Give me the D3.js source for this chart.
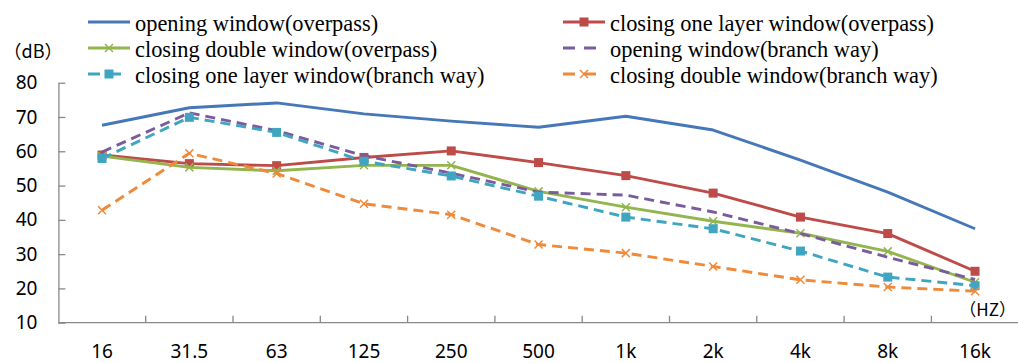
<!DOCTYPE html>
<html>
<head>
<meta charset="utf-8">
<script src="https://cdn.jsdelivr.net/npm/d3@7"></script>
<style>
  body { margin: 0; background: #fff; }
  svg { display: block; }
</style>
</head>
<body>
<div id="chart"></div>
<script>
// frequency bands (HZ) and y ticks (dB)
const categories = ["16", "31.5", "63", "125", "250", "500", "1k", "2k", "4k", "8k", "16k"];
const yTicks = [10, 20, 30, 40, 50, 60, 70, 80];

// values, dB
const openOverpass    = [67.6, 72.7, 74.1, 70.9, 68.8, 67.0, 70.2, 66.2, 57.4, 48.1, 37.4];
const oneLayerOverpass = [58.9, 56.4, 55.8, 58.2, 60.1, 56.7, 52.9, 47.8, 40.8, 36.0, 25.0];
const doubleOverpass  = [58.6, 55.3, 54.3, 55.9, 55.9, 48.3, 43.7, 39.6, 36.1, 30.8, 21.8];
const openBranch      = [59.8, 71.2, 66.0, 58.7, 53.6, 48.1, 47.2, 42.3, 36.0, 29.1, 22.6];
const oneLayerBranch  = [57.9, 69.9, 65.5, 57.1, 52.8, 46.9, 40.8, 37.4, 30.9, 23.3, 20.8];
const doubleBranch    = [42.8, 59.4, 53.5, 44.7, 41.5, 32.8, 30.3, 26.4, 22.5, 20.4, 19.2];

const series = [
    { name: "opening window(overpass)", values: openOverpass, color: "#4677b8", dash: null, marker: null },
    { name: "closing one layer window(overpass)", values: oneLayerOverpass, color: "#be4b48", dash: null, marker: "square" },
    { name: "closing double window(overpass)", values: doubleOverpass, color: "#92b54e", dash: null, marker: "cross" },
    { name: "opening window(branch way)", values: openBranch, color: "#7a5c9e", dash: "10,6", marker: null },
    { name: "closing one layer window(branch way)", values: oneLayerBranch, color: "#40a5c0", dash: "10,6", marker: "square" },
    { name: "closing double window(branch way)", values: doubleBranch, color: "#ee8a3a", dash: "10,6", marker: "cross" }
];

const width = 1018;
const height = 363;
const plotLeft = 58.4, plotRight = 1018.7, plotTop = 82.7, plotBottom = 322.7;
const axisColor = "#898989";

const svg = d3.select("#chart")
    .append("svg")
    .attr("width", width)
    .attr("height", height);

const x = d3.scaleBand()
    .domain(categories)
    .range([plotLeft, plotRight]);

const y = d3.scaleLinear()
    .domain([10, 80])
    .range([plotBottom, plotTop]);

// y axis, ticks pointing inside
const yAxis = svg.append("g")
    .attr("transform", `translate(${plotLeft},0)`)
    .call(d3.axisLeft(y).tickValues(yTicks).tickSize(-7).tickPadding(21).tickSizeOuter(0));
yAxis.select(".domain").attr("stroke", axisColor).attr("stroke-width", 1.3);
yAxis.selectAll(".tick line").attr("stroke", axisColor).attr("stroke-width", 1.3);
yAxis.selectAll(".tick text")
    .attr("fill", "#000")
    .style("font-family", "'Noto Sans', sans-serif")
    .style("font-size", "19px");

// x axis: labels in the middle of each band, ticks between bands
const xAxis = svg.append("g")
    .attr("transform", `translate(0,${plotBottom})`)
    .call(d3.axisBottom(x).tickSize(0).tickPadding(22));
xAxis.select(".domain").remove();
xAxis.selectAll(".tick text")
    .attr("fill", "#000")
    .style("font-family", "'Noto Sans', sans-serif")
    .style("font-size", "19px");

svg.append("line")
    .attr("x1", plotLeft).attr("x2", plotRight)
    .attr("y1", plotBottom).attr("y2", plotBottom)
    .attr("stroke", axisColor).attr("stroke-width", 1.3);

svg.append("g")
    .selectAll("line")
    .data(categories.slice(1))
    .enter()
    .append("line")
    .attr("x1", d => x(d)).attr("x2", d => x(d))
    .attr("y1", plotBottom).attr("y2", plotBottom - 7)
    .attr("stroke", axisColor).attr("stroke-width", 1.3);

// unit labels
svg.append("text")
    .attr("x", 33).attr("y", 58)
    .attr("text-anchor", "middle")
    .style("font-family", "'Noto Sans CJK SC', sans-serif")
    .style("font-size", "18px")
    .text("（dB）");

svg.append("text")
    .attr("x", 1016).attr("y", 316)
    .attr("text-anchor", "end")
    .style("font-family", "'Noto Sans CJK SC', sans-serif")
    .style("font-size", "17px")
    .text("（HZ）");

function drawMarker(g, type, color) {
    if (type === "square") {
        g.append("rect")
            .attr("x", -4.5).attr("y", -4.5)
            .attr("width", 9).attr("height", 9)
            .attr("fill", color);
    } else if (type === "cross") {
        g.append("path")
            .attr("d", "M-4,-4L4,4M-4,4L4,-4")
            .attr("stroke", color)
            .attr("stroke-width", 1.5)
            .attr("fill", "none");
    }
}

const line = d3.line()
    .x((d, i) => x(categories[i]) + x.bandwidth() / 2)
    .y(d => y(d));

const plot = svg.append("g");

series.forEach(s => {
    plot.append("path")
        .datum(s.values)
        .attr("d", line)
        .attr("fill", "none")
        .attr("stroke", s.color)
        .attr("stroke-width", 2.9)
        .attr("stroke-linejoin", "round")
        .attr("stroke-dasharray", s.dash);

    if (s.marker) {
        plot.append("g")
            .selectAll("g")
            .data(s.values)
            .enter()
            .append("g")
            .attr("transform", (d, i) => `translate(${x(categories[i]) + x.bandwidth() / 2},${y(d)})`)
            .each(function () { drawMarker(d3.select(this), s.marker, s.color); });
    }
});

// legend, two columns of three rows
const legendCols = [88, 563];
const legendRows = [22, 48, 74];

const legend = svg.append("g")
    .selectAll("g")
    .data(series)
    .enter()
    .append("g")
    .attr("transform", (d, i) => `translate(${legendCols[i % 2]},${legendRows[Math.floor(i / 2)]})`);

legend.append("line")
    .attr("x1", 0).attr("x2", 42)
    .attr("y1", 0).attr("y2", 0)
    .attr("stroke", d => d.color)
    .attr("stroke-width", 2.9)
    .attr("stroke-dasharray", d => d.dash ? "12,9" : null);

legend.each(function (d) {
    const g = d3.select(this).append("g").attr("transform", "translate(21,0)");
    drawMarker(g, d.marker, d.color);
});

legend.append("text")
    .attr("x", 47)
    .attr("y", 8.5)
    .style("font-family", "'Liberation Serif', 'Times New Roman', serif")
    .style("font-size", "22.4px")
    .attr("fill", "#000")
    .text(d => d.name);
</script>
</body>
</html>
